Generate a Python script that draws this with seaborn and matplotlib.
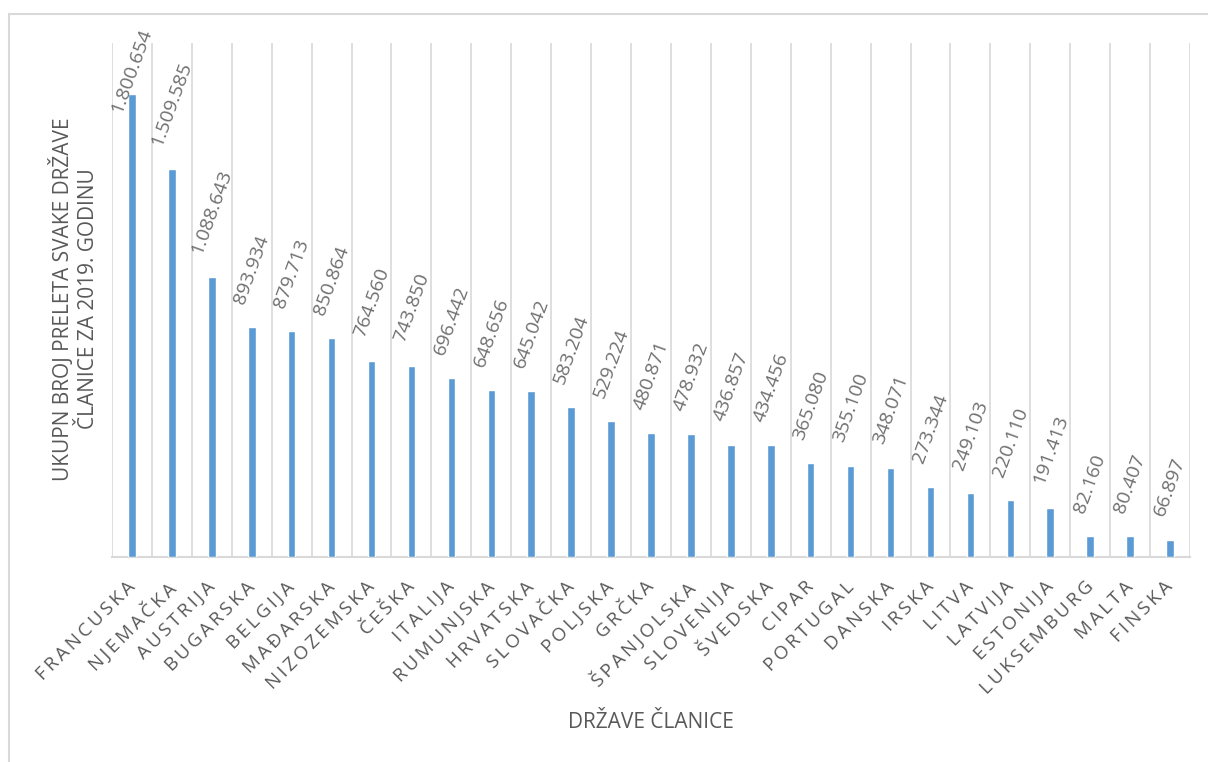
import matplotlib
matplotlib.use("Agg")
import matplotlib.pyplot as plt
import matplotlib.transforms as mtransforms
import seaborn as sns
import pandas as pd
from matplotlib.patches import Rectangle

countries = ["FRANCUSKA", "NJEMAČKA", "AUSTRIJA", "BUGARSKA", "BELGIJA", "MAĐARSKA",
             "NIZOZEMSKA", "ČEŠKA", "ITALIJA", "RUMUNJSKA", "HRVATSKA", "SLOVAČKA",
             "POLJSKA", "GRČKA", "ŠPANJOLSKA", "SLOVENIJA", "ŠVEDSKA", "CIPAR",
             "PORTUGAL", "DANSKA", "IRSKA", "LITVA", "LATVIJA", "ESTONIJA",
             "LUKSEMBURG", "MALTA", "FINSKA"]
flights = [1800654, 1509585, 1088643, 893934, 879713, 850864,
           764560, 743850, 696442, 648656, 645042, 583204,
           529224, 480871, 478932, 436857, 434456, 365080,
           355100, 348071, 273344, 249103, 220110, 191413,
           82160, 80407, 66897]

y_title = "UKUPN BROJ PRELETA SVAKE DRŽAVE\nČLANICE ZA 2019. GODINU"
x_title = "DRŽAVE ČLANICE"

df = pd.DataFrame({"drzava": countries, "preleti": flights})

sns.set_theme(style="white")
plt.rcParams["font.family"] = ["Open Sans", "DejaVu Sans"]

txt = "#595959"
grid = "#D9D9D9"

fig = plt.figure(figsize=(12.08, 7.62), dpi=100)
ax = fig.add_axes([112 / 1208, 1 - 557 / 762, (1190 - 112) / 1208, (557 - 43) / 762])

sns.barplot(data=df, x="drzava", y="preleti", color="#5B9BD5", width=0.19,
            saturation=1, ax=ax, zorder=3)

ax.set_xlim(-0.5, len(countries) - 0.5)
ax.set_ylim(0, 2000000)
ax.set_yticks([])

# category boundary gridlines, Excel style
for b in range(len(countries) + 1):
    ax.axvline(b - 0.5, color=grid, lw=1.2, zorder=1)
for s in ["top", "right", "left"]:
    ax.spines[s].set_visible(False)
ax.spines["bottom"].set_color(grid)
ax.spines["bottom"].set_linewidth(1.5)

# spaced-out tick labels
spaced = ["\u2009".join(c) for c in countries]
ax.set_xticks(range(len(countries)))
ax.set_xticklabels(spaced, rotation=45, ha="right", rotation_mode="anchor",
                   fontsize=13.5, color=txt)
ax.tick_params(axis="x", length=0, pad=15)
shift = mtransforms.ScaledTranslation(-6 / 100, 0, fig.dpi_scale_trans)
for lab in ax.get_xticklabels():
    lab.set_transform(lab.get_transform() + shift)
ax.set_xlabel("")
ax.set_ylabel("")

labels = []
for i, v in enumerate(flights):
    t = ax.annotate(f"{v:,}".replace(",", "."), (i, v), xytext=(0, 21),
                    textcoords="offset pixels", rotation=70, ha="center",
                    va="bottom", fontsize=14, color="#707070", zorder=4,
                    annotation_clip=False)
    labels.append(t)

fig.text(74 / 1208, 1 - 299 / 762, y_title, rotation=90, ha="center", va="center",
         multialignment="center", fontsize=15, color=txt, linespacing=1.3)
fig.text(651 / 1208, 1 - 722 / 762, x_title, ha="center", va="center",
         fontsize=15, color=txt)

# chart area border
fig.patches.append(Rectangle((9 / 1208, -0.1), 1.2, 1 - 14 / 762 + 0.1,
                             transform=fig.transFigure, fill=False,
                             edgecolor=grid, lw=1.5))

# keep value labels inside the chart area, like Excel does
fig.canvas.draw()
renderer = fig.canvas.get_renderer()
top_limit = 762 - 26
for t in labels:
    bb = t.get_window_extent(renderer)
    if bb.y1 > top_limit:
        ox, oy = t.xyann
        t.xyann = (ox, oy - (bb.y1 - top_limit))

fig.savefig("out.png", dpi=100)
